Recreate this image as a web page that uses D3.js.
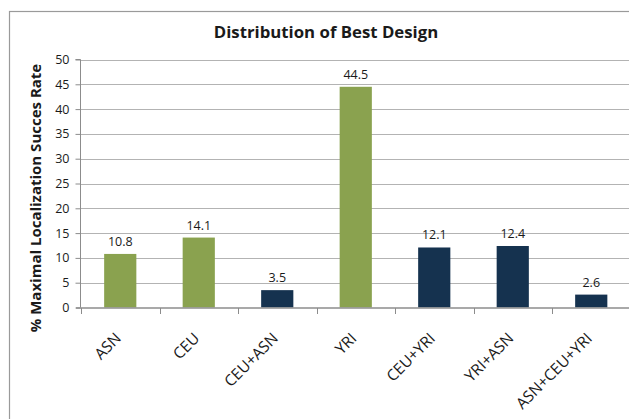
<!DOCTYPE html>
<html>
<head>
<meta charset="utf-8">
<script src="https://cdn.jsdelivr.net/npm/d3@7"></script>
<style>
  html, body { margin: 0; padding: 0; background: #fff; }
  svg { display: block; }
  text { font-family: "Open Sans", "DejaVu Sans", sans-serif; fill: #1a1a1a; }
</style>
</head>
<body>
<svg id="chart" width="629" height="419"></svg>
<script>
// Data
const categories = ["ASN", "CEU", "CEU+ASN", "YRI", "CEU+YRI", "YRI+ASN", "ASN+CEU+YRI"];
const values = [10.8, 14.1, 3.5, 44.5, 12.1, 12.4, 2.6];
const groups = ["single", "single", "combo", "single", "combo", "combo", "combo"];
const yTicks = [0, 5, 10, 15, 20, 25, 30, 35, 40, 45, 50];

const colors = { single: "#8aa24f", combo: "#15324f" };

const W = 629, H = 419;
const plot = { left: 81, top: 59.5, right: 630.5, bottom: 307.5 };

const svg = d3.select("#chart");

// Outer chart frame
svg.append("rect")
  .attr("x", 9.5).attr("y", 11.5)
  .attr("width", 640).attr("height", 440)
  .attr("fill", "none").attr("stroke", "#9a9a9a").attr("stroke-width", 1.2);

// Title
svg.append("text")
  .attr("x", 326).attr("y", 37.5)
  .attr("text-anchor", "middle")
  .style("font-size", "16.8px").style("font-weight", "bold")
  .text("Distribution of Best Design");

const x = d3.scaleBand().domain(categories).range([plot.left, plot.right]).padding(0);
const y = d3.scaleLinear().domain([0, 50]).range([plot.bottom, plot.top]);

// Horizontal gridlines
svg.append("g").selectAll("line").data(yTicks.filter(d => d > 0)).join("line")
  .attr("x1", plot.left).attr("x2", W + 5)
  .attr("y1", d => Math.round(y(d)) + 0.5).attr("y2", d => Math.round(y(d)) + 0.5)
  .attr("stroke", "#b3b3b3").attr("stroke-width", 1);

// Y axis
const yAxis = d3.axisLeft(y).tickValues(yTicks).tickSize(5).tickPadding(6);
const gy = svg.append("g").attr("transform", `translate(${plot.left - 0.5},0)`).call(yAxis);
gy.select(".domain").attr("stroke", "#8c8c8c").attr("d", `M-5,${plot.top}H0V${plot.bottom}`);
gy.selectAll(".tick line").attr("stroke", "#8c8c8c");
gy.selectAll(".tick text").style("font-size", "12.5px").attr("fill", "#1a1a1a");

// Bars
const barFrac = 0.41;
svg.append("g").selectAll("rect").data(values).join("rect")
  .attr("x", (d, i) => x(categories[i]) + x.bandwidth() * (1 - barFrac) / 2)
  .attr("width", x.bandwidth() * barFrac)
  .attr("y", d => y(d))
  .attr("height", d => y(0) - y(d))
  .attr("fill", (d, i) => colors[groups[i]]);

// Value labels
svg.append("g").selectAll("text").data(values).join("text")
  .attr("x", (d, i) => x(categories[i]) + x.bandwidth() / 2)
  .attr("y", d => y(d) - 8)
  .attr("text-anchor", "middle")
  .style("font-size", "12.5px")
  .text(d => d.toFixed(1));

// X axis
const xAxis = d3.axisBottom(x).tickSize(0).tickFormat("");
const gx = svg.append("g").attr("transform", `translate(0,${plot.bottom + 0.5})`).call(xAxis);
gx.select(".domain").attr("stroke", "#8c8c8c").attr("stroke-width", 1.5).attr("d", `M${plot.left - 5},0H${W + 5}`);
// Category boundary ticks
const bounds = categories.map(c => x(c)).concat([x(categories[categories.length - 1]) + x.bandwidth()]);
gx.append("g").selectAll("line").data(bounds).join("line")
  .attr("x1", d => Math.round(d) + 0.5).attr("x2", d => Math.round(d) + 0.5)
  .attr("y1", 0).attr("y2", 6)
  .attr("stroke", "#8c8c8c");

// Rotated category labels
svg.append("g").selectAll("text").data(categories).join("text")
  .attr("transform", d => `translate(${x(d) + x.bandwidth() / 2 - 2},${plot.bottom + 28}) rotate(-45)`)
  .attr("text-anchor", "end")
  .attr("dy", "0.35em")
  .style("font-size", "15.5px")
  .text(d => d);

// Y axis title
svg.append("text")
  .attr("transform", `translate(41,198) rotate(-90)`)
  .attr("text-anchor", "middle")
  .style("font-size", "15px").style("font-weight", "bold")
  .text("% Maximal Localization Succes Rate");
</script>
</body>
</html>
